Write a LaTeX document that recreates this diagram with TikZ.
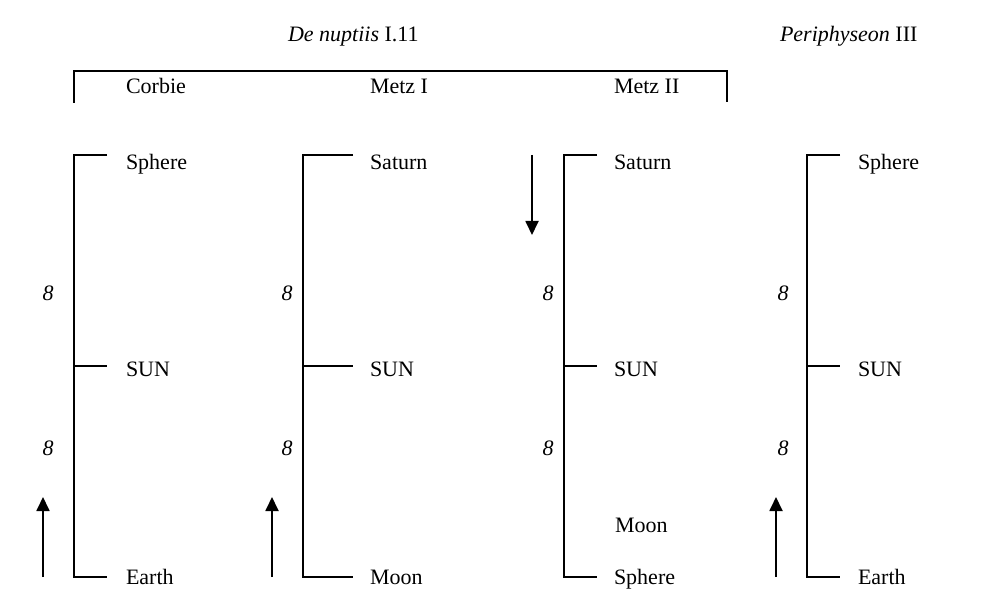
\documentclass[tikz,border=0pt]{standalone}
\usepackage{fontspec}
\setmainfont{Liberation Serif}
\usetikzlibrary{arrows.meta, positioning}

\begin{document}
\begin{tikzpicture}[x=0.5pt,y=-0.5pt,line width=1pt,
	body/.style={anchor=base west, inner sep=0pt, font=\fontsize{11}{13}\selectfont},
	num/.style={inner sep=0pt, font=\fontsize{11}{13}\selectfont\itshape},
	motion/.style={-{Triangle[width=6.5pt,length=7pt]}, line width=0.9pt}]
		\useasboundingbox (0,0) rectangle (996,614);

		% headings
		\node[body] (NUPTIIS)	at (287,42)		{\textit{De nuptiis} I.11};
		\node[body] (PERI)		at (779,42)		{\textit{Periphyseon} III};
		\node[body] (CORBIE)	at (125,94)		{Corbie};
		\node[body] (METZ_I)	at (369,94)		{Metz I};
		\node[body] (METZ_II)	at (613,94)		{Metz II};
		\coordinate (BR_A) at (74,103);		\coordinate (BR_B) at (74,71);
		\coordinate (BR_C) at (727,71);		\coordinate (BR_D) at (727,102);
		\draw (BR_A) -- (BR_B) -- (BR_C) -- (BR_D);

		% Corbie
		\coordinate (C_TOP) at (74,155);	\coordinate (C_TOP_T) at (107,155);
		\coordinate (C_MID) at (74,366);	\coordinate (C_MID_T) at (107,366);
		\coordinate (C_BOT) at (74,577);	\coordinate (C_BOT_T) at (107,577);
		\node[body] (C_SPHERE)	at (125,170)	{Sphere};
		\node[body] (C_SUN)		at (125,377)	{SUN};
		\node[body] (C_EARTH)	at (125,584)	{Earth};
		\node[num]  (C_EIGHT_A)	at (48,293)		{8};
		\node[num]  (C_EIGHT_B)	at (48,448)		{8};
		\coordinate (C_UP_S) at (43,577);	\coordinate (C_UP_E) at (43,497);
		\draw (C_TOP_T) -- (C_TOP) -- (C_BOT) -- (C_BOT_T)  (C_MID) -- (C_MID_T);
		\draw[motion] (C_UP_S) -- (C_UP_E);

		% Metz I
		\coordinate (MA_TOP) at (303,155);	\coordinate (MA_TOP_T) at (353,155);
		\coordinate (MA_MID) at (303,366);	\coordinate (MA_MID_T) at (353,366);
		\coordinate (MA_BOT) at (303,577);	\coordinate (MA_BOT_T) at (353,577);
		\node[body] (MA_SATURN)	at (369,170)	{Saturn};
		\node[body] (MA_SUN)	at (369,377)	{SUN};
		\node[body] (MA_MOON)	at (369,584)	{Moon};
		\node[num]  (MA_EIGHT_A) at (287,293)	{8};
		\node[num]  (MA_EIGHT_B) at (287,448)	{8};
		\coordinate (MA_UP_S) at (272,577);	\coordinate (MA_UP_E) at (272,497);
		\draw (MA_TOP_T) -- (MA_TOP) -- (MA_BOT) -- (MA_BOT_T)  (MA_MID) -- (MA_MID_T);
		\draw[motion] (MA_UP_S) -- (MA_UP_E);

		% Metz II
		\coordinate (MB_TOP) at (564,155);	\coordinate (MB_TOP_T) at (597,155);
		\coordinate (MB_MID) at (564,366);	\coordinate (MB_MID_T) at (597,366);
		\coordinate (MB_BOT) at (564,577);	\coordinate (MB_BOT_T) at (597,577);
		\node[body] (MB_SATURN)	at (613,170)	{Saturn};
		\node[body] (MB_SUN)	at (613,377)	{SUN};
		\node[body] (MB_MOON)	at (614,532)	{Moon};
		\node[body] (MB_SPHERE)	at (613,584)	{Sphere};
		\node[num]  (MB_EIGHT_A) at (548,293)	{8};
		\node[num]  (MB_EIGHT_B) at (548,448)	{8};
		\coordinate (MB_DN_S) at (532,155);	\coordinate (MB_DN_E) at (532,235);
		\draw (MB_TOP_T) -- (MB_TOP) -- (MB_BOT) -- (MB_BOT_T)  (MB_MID) -- (MB_MID_T);
		\draw[motion] (MB_DN_S) -- (MB_DN_E);

		% Periphyseon
		\coordinate (P_TOP) at (807,155);	\coordinate (P_TOP_T) at (840,155);
		\coordinate (P_MID) at (807,366);	\coordinate (P_MID_T) at (840,366);
		\coordinate (P_BOT) at (807,577);	\coordinate (P_BOT_T) at (840,577);
		\node[body] (P_SPHERE)	at (857,170)	{Sphere};
		\node[body] (P_SUN)		at (857,377)	{SUN};
		\node[body] (P_EARTH)	at (857,584)	{Earth};
		\node[num]  (P_EIGHT_A)	at (783,293)	{8};
		\node[num]  (P_EIGHT_B)	at (783,448)	{8};
		\coordinate (P_UP_S) at (776,577);	\coordinate (P_UP_E) at (776,497);
		\draw (P_TOP_T) -- (P_TOP) -- (P_BOT) -- (P_BOT_T)  (P_MID) -- (P_MID_T);
		\draw[motion] (P_UP_S) -- (P_UP_E);
	\end{tikzpicture}
\end{document}
